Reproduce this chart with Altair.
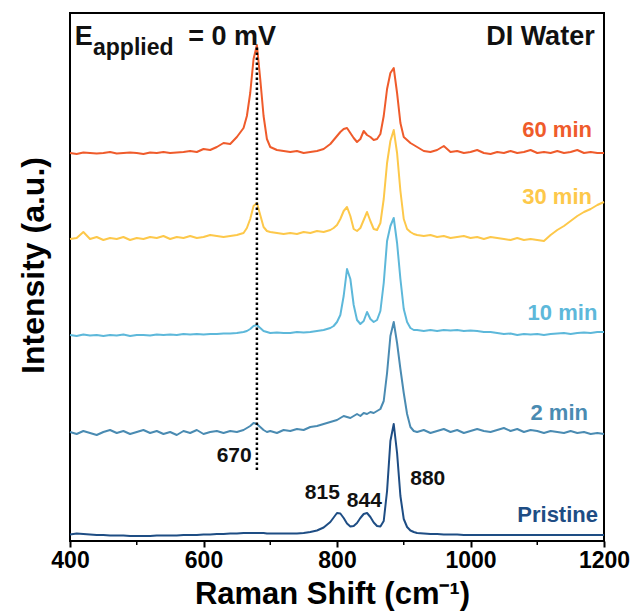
import altair as alt
import pandas as pd

# ---------------- data ----------------
raman_shift = [400, 410, 420, 430, 440, 450, 460, 470, 480, 490, 500, 510, 520, 530, 540, 550,
               560, 570, 580, 590, 600, 610, 620, 630,
               640, 650, 660, 665, 670, 675, 680, 685, 690, 695, 700, 710, 720,
               730, 740, 750, 760, 770, 780, 790,
               795, 800, 805, 810, 815, 820, 825, 830, 835, 840, 845, 850, 855, 860, 865, 870,
               875, 880, 885, 890, 895, 900, 905, 910, 915,
               920, 930, 940, 950, 960, 970, 980, 990, 1000, 1010, 1020, 1030, 1040, 1050, 1060,
               1070, 1080, 1090, 1100, 1110, 1120, 1130, 1140, 1150, 1160, 1170, 1180, 1190, 1200]

pristine = [6.5, 7.5, 7.0, 6.5, 6.0, 6.0, 5.5, 5.5, 5.5, 5.0, 5.0, 5.0, 5.0, 5.5, 5.5, 5.5,
            5.5, 6.0, 6.0, 6.0, 6.5, 6.5, 7.0, 7.0,
            7.5, 7.5, 8.0, 8.0, 8.0, 8.0, 8.0, 8.0, 8.0, 7.5, 7.5, 7.5, 7.5,
            7.5, 7.5, 8.0, 9.0, 10.5, 13.5, 19.0,
            23.5, 28.0, 27.5, 23.0, 17.5, 14.5, 15.0, 18.0, 23.0, 27.0, 28.0, 24.0, 18.5, 15.0, 14.5, 20.0,
            50.0, 100.0, 117.0, 88.0, 45.0, 22.0, 14.0, 10.5, 9.0,
            8.0, 7.5, 7.0, 7.0, 6.5, 6.5, 6.5, 6.0, 6.0, 6.0, 6.0, 6.0, 6.0, 6.0, 6.0,
            6.0, 6.0, 6.0, 6.0, 6.0, 6.0, 6.0, 6.0, 6.0, 6.0, 6.0, 6.0, 6.0, 6.0]

min_2 = [109, 107, 110, 108, 106, 109, 111, 108, 110, 107, 109, 111, 108, 110, 107, 109,
         106, 110, 108, 111, 107, 109, 110, 108,
         110, 109, 111, 113, 115, 118, 117, 114, 111, 109, 110, 108, 111,
         110, 112, 111, 114, 115, 117, 119,
         120, 121, 123, 125, 124, 123, 125, 127, 125, 128, 127, 129, 128, 130, 132, 140,
         168, 205, 219, 198, 172, 148, 127, 114, 110,
         109, 111, 108, 110, 112, 109, 111, 108, 110, 112, 110, 109, 111, 113, 110,
         112, 109, 111, 110, 108, 110, 109, 108, 110, 108, 109, 107, 108, 107]

min_10 = [206, 205, 206.5, 205.5, 206, 205, 206, 205.5, 206.5, 205, 206, 206, 205.5, 206.5, 206, 206.5,
          206, 207, 206.5, 207, 206.5, 207, 207, 207.5,
          207.5, 208, 209, 210, 212, 215, 216, 213, 210, 209, 208, 208.5, 208,
          208, 209, 208.5, 209, 210, 211, 213,
          215, 219, 226, 245, 272, 262, 236, 221, 217, 220, 229, 222, 219, 221, 230, 258,
          300, 315, 323, 298, 262, 232, 219, 213, 211,
          211, 210, 211, 210, 211, 210.5, 211, 210, 210.5, 210, 209, 209, 208, 207, 207.5,
          206, 207, 206.5, 207, 206, 207, 207.5, 208, 207, 208, 208.5, 208, 209, 209]

min_30 = [302, 303, 309, 302, 304, 301, 303, 302, 304, 301, 303, 302, 304, 303, 305, 302,
          304, 303, 305, 303, 304, 306, 305, 304,
          305, 306, 308, 313, 322, 335, 338, 326, 314, 310, 309, 308, 307,
          308, 307, 309, 308, 310, 309, 311,
          313, 316, 322, 330, 334, 325, 312, 310, 313, 321, 329, 320, 312, 311, 318, 342,
          378, 400, 411, 388, 350, 322, 312, 309, 307,
          306, 305, 306, 304, 305, 303, 304, 305, 303, 304, 302, 304, 303, 302, 301,
          303, 301, 302, 301, 300, 306, 311, 315, 320, 325, 329, 332, 336, 339]

min_60 = [388, 387, 388.5, 388, 387.5, 388, 389, 387.5, 388, 388.5, 388, 387, 388.5, 388, 389, 388,
          388.5, 389, 390, 389, 392, 391, 394, 398,
          397, 404, 413, 425, 448, 482, 496, 462, 425, 402, 394, 391, 390,
          389, 390, 388, 389, 390, 392, 397,
          401, 405, 409, 412, 413, 408, 403, 399, 402, 410, 406, 404, 401, 402, 407, 425,
          452, 468, 473, 448, 418, 404, 401, 398, 396,
          394, 390, 389, 391, 395, 389, 390, 388, 389, 391, 388, 387, 389, 388, 390,
          388, 389, 391, 388, 389, 388, 390, 388, 389, 391, 388, 389, 388, 388]

series_names = ["Pristine", "2 min", "10 min", "30 min", "60 min"]
series_colors = ["#1E4D84", "#4A8BB2", "#5DB8DA", "#FDC84A", "#EF5B2B"]

label_text = ["60 min", "30 min", "10 min", "2 min", "Pristine"]
label_x = [1182, 1182, 1190, 1176, 1191]
label_y = [411, 344, 228, 128, 26]

peak_text = ["670", "815", "844", "880"]
peak_x = [646, 778, 841, 936]
peak_y = [85, 48, 40, 62]

marker_x = [680]
marker_lo = [71]
marker_hi = [494]

major_ticks = [400, 600, 800, 1000, 1200]
minor_ticks = [500, 700, 900, 1100]

FONT = "Liberation Sans"

# ---------------- tables ----------------
rows = []
for name, vals in zip(series_names, [pristine, min_2, min_10, min_30, min_60]):
    for i, (x, y) in enumerate(zip(raman_shift, vals)):
        rows.append({"shift": x, "intensity": y, "series": name, "idx": i})
df = pd.DataFrame(rows)

labels_df = pd.DataFrame({"text": label_text, "x": label_x, "y": label_y, "series": label_text})
peaks_df = pd.DataFrame({"text": peak_text, "x": peak_x, "y": peak_y})
marker_df = pd.DataFrame({"x": marker_x, "lo": marker_lo, "hi": marker_hi})
minor_df = pd.DataFrame({"x": minor_ticks})

xscale = alt.Scale(domain=[400, 1200], nice=False, zero=False)
yscale = alt.Scale(domain=[0, 528], nice=False, zero=False)
cscale = alt.Scale(domain=series_names, range=series_colors)

x_axis = alt.Axis(values=major_ticks, format="d", domain=False, grid=False,
                  ticks=True, tickSize=6, tickWidth=2, tickColor="black",
                  labelFont=FONT, labelFontSize=23, labelFontWeight="bold",
                  labelColor="black", labelPadding=2, labelFlush=False,
                  title="Raman Shift (cm\u207b\u00b9)", titleFont=FONT, titleFontSize=31,
                  titleFontWeight="bold", titleColor="black",
                  titleX=262, titleY=62, titleBaseline="alphabetic", titleAlign="center")
y_axis = alt.Axis(labels=False, ticks=False, domain=False, grid=False,
                  title="Intensity (a.u.)", titleFont=FONT, titleFontSize=32,
                  titleFontWeight="bold", titleColor="black",
                  titleX=-37, titleY=252, titleAngle=270, titleBaseline="middle",
                  titleAlign="center")

lines = alt.Chart(df).mark_line(strokeWidth=2, strokeJoin="round").encode(
    x=alt.X("shift:Q", scale=xscale, axis=x_axis),
    y=alt.Y("intensity:Q", scale=yscale, axis=y_axis),
    color=alt.Color("series:N", scale=cscale, legend=None),
    order="idx:Q",
)

marker = alt.Chart(marker_df).mark_rule(color="black", strokeWidth=2.5, strokeDash=[2.5, 2.5]).encode(
    x="x:Q", y="lo:Q", y2="hi:Q"
)

minor = alt.Chart(minor_df).mark_rule(color="black", strokeWidth=1.5).encode(
    x="x:Q", y=alt.value(528), y2=alt.value(532)
)

series_labels = alt.Chart(labels_df).mark_text(
    font=FONT, fontSize=22, fontWeight="bold", align="right", baseline="middle"
).encode(
    x="x:Q", y="y:Q", text="text:N",
    color=alt.Color("series:N", scale=cscale, legend=None),
)

peak_labels = alt.Chart(peaks_df).mark_text(
    font=FONT, fontSize=21, fontWeight="bold", align="center", baseline="middle", color="#111111"
).encode(x="x:Q", y="y:Q", text="text:N")

def label(text, x, y, size, align="left"):
    d = pd.DataFrame({"text": [text], "x": [x], "y": [y]})
    return alt.Chart(d).mark_text(
        font=FONT, fontSize=size, fontWeight="bold", align=align,
        baseline="alphabetic", color="#111111"
    ).encode(x="x:Q", y="y:Q", text="text:N")

e_main = label("E", 407, 496, 27)
e_sub = label("applied", 434.5, 486, 23)
e_rest = label("= 0 mV", 577, 496, 27)
di = label("DI Water", 1186, 496, 27, align="right")

chart = alt.layer(
    lines, marker, minor, series_labels, peak_labels, e_main, e_sub, e_rest, di
).properties(
    width=534, height=528,
    padding={"left": 70, "top": 13, "right": 31, "bottom": 73},
    autosize="none",
    background="white",
).configure_view(stroke="black", strokeWidth=2)

chart.save("out.html", embed_options={"renderer": "svg", "actions": False})
